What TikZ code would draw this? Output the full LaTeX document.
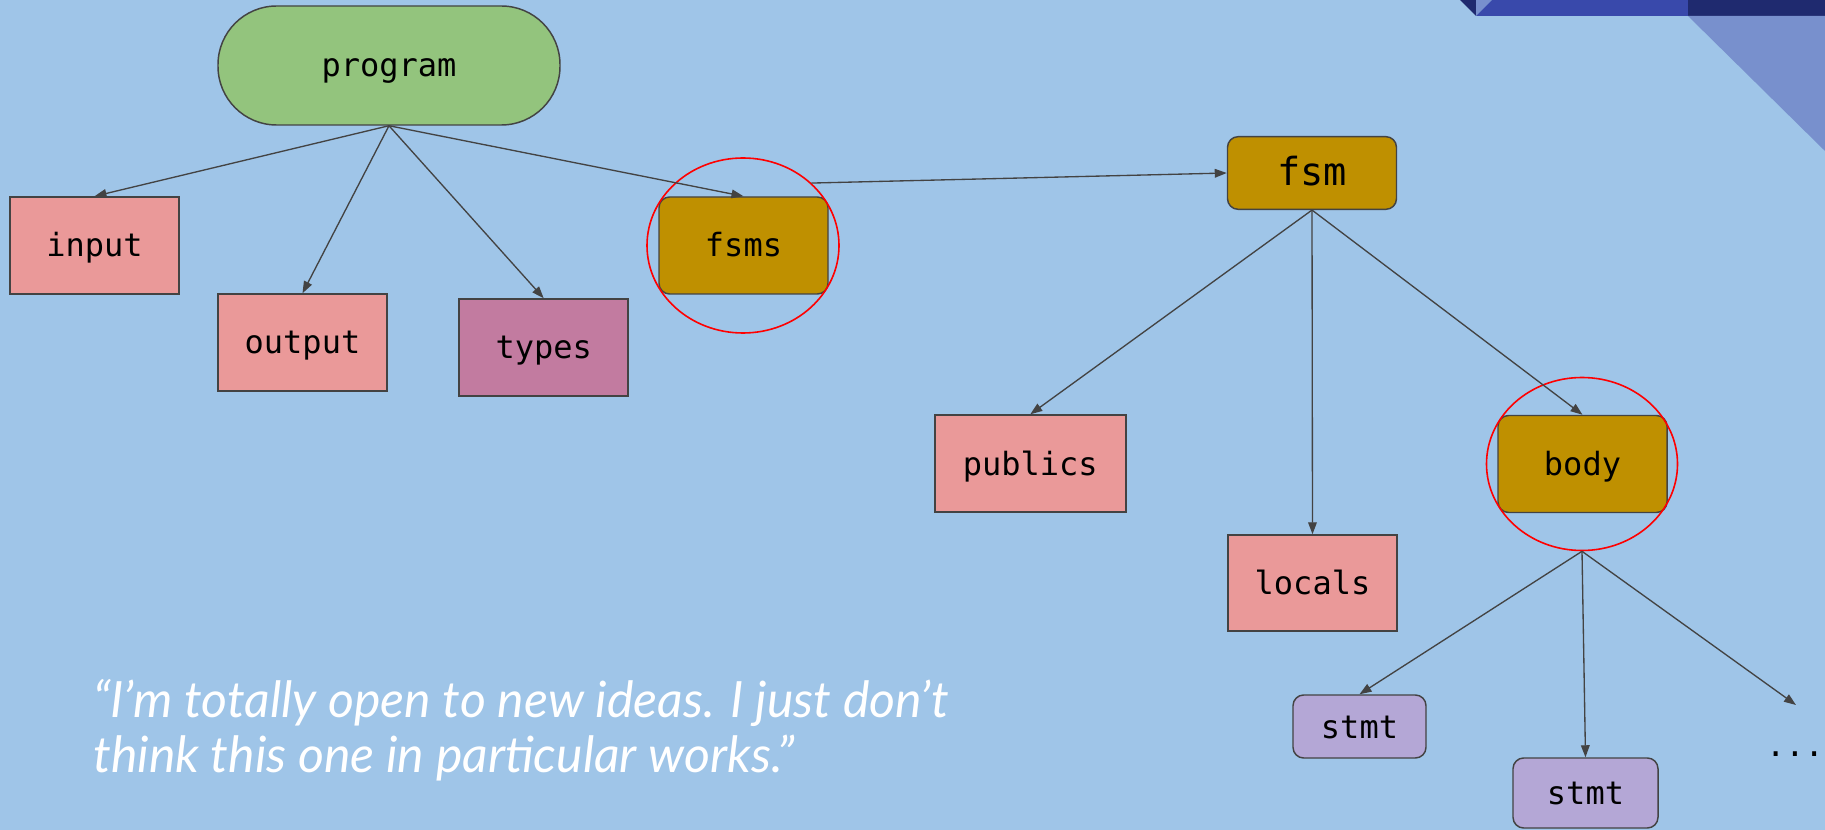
\documentclass[tikz,border=0pt]{standalone}
\usepackage{fontspec}
\setmonofont{DejaVu Sans Mono}
\newfontfamily\quotefont{Lato}
\usetikzlibrary{arrows.meta,shapes.geometric}

\definecolor{slidebg}{HTML}{9FC5E8}
\definecolor{rootgreen}{HTML}{93C47D}
\definecolor{leafpink}{HTML}{EA9999}
\definecolor{typemauve}{HTML}{C27BA0}
\definecolor{fsmgold}{HTML}{BF9000}
\definecolor{stmtlilac}{HTML}{B4A7D6}
\definecolor{edgegray}{HTML}{434343}
\definecolor{ringred}{HTML}{FF0000}
\definecolor{barblue}{HTML}{3949AB}
\definecolor{barnavy}{HTML}{1F2A6F}
\definecolor{barlight}{HTML}{7890CD}

\tikzset{
  box/.style={draw=edgegray, line width=1.1pt, font=\ttfamily\fontsize{24}{28}\selectfont,
    text=black, inner sep=0pt, text height=17.25pt, text depth=0pt,
    minimum width=126.75pt, minimum height=72.75pt},
  leaf/.style={box, fill=leafpink},
  roundbox/.style={box, rounded corners=8pt},
  ring/.style={draw=ringred, line width=1.2pt, ellipse, inner sep=0pt},
  edge/.style={draw=edgegray, line width=1pt, -{Triangle[length=9pt,width=6.5pt]}},
}

\begin{document}
\begin{tikzpicture}[x=0.75pt, y=-0.75pt]
  \useasboundingbox (0,0) rectangle (1825,830);
  \fill[slidebg] (0,0) rectangle (1825,830);

  % corner banner
  \fill[barnavy] (1460,0) -- (1476,16) -- (1476,0) -- cycle;
  \fill[barlight] (1476,0) -- (1492,0) -- (1476,16) -- cycle;
  \fill[barblue] (1492,0) -- (1688,0) -- (1688,16) -- (1476,16) -- cycle;
  \fill[barnavy] (1688,0) rectangle (1825,16);
  \fill[barlight] (1688,16) -- (1825,16) -- (1825,151) -- cycle;

  % tree nodes
  \node[box, fill=rootgreen, rounded corners=44pt, minimum width=256.5pt, minimum height=89.25pt]
    (program) at (389,65.5) {program};
  \node[leaf] (input)  at (94.5,245.5) {input};
  \node[leaf] (output) at (302.5,342.5) {output};
  \node[box, fill=typemauve] (types) at (543.7,347.5) {types};
  \node[roundbox, fill=fsmgold] (fsms) at (743.5,245.5) {fsms};
  \node[ring, minimum width=144pt, minimum height=131.25pt] (fsmsring) at (743,245.5) {};
  \node[roundbox, fill=fsmgold, minimum height=54.5pt, text height=19.5pt,
        font=\ttfamily\fontsize{29}{33}\selectfont]
    (fsm) at (1312,173) {fsm};
  \node[leaf, minimum width=143.25pt] (publics) at (1030.3,463.5) {publics};
  \node[leaf, minimum height=72pt] (locals) at (1312.5,583) {locals};
  \node[roundbox, fill=fsmgold] (body) at (1582.5,464) {body};
  \node[ring, minimum width=143.25pt, minimum height=129.75pt] (bodyring) at (1582,464) {};
  \node[roundbox, fill=stmtlilac, minimum width=99.75pt, minimum height=47.25pt]
    (stmtA) at (1359.5,726.5) {stmt};
  \node[roundbox, fill=stmtlilac, minimum width=108.75pt, minimum height=52.5pt]
    (stmtB) at (1585.5,793) {stmt};
  \node[font=\ttfamily\fontsize{24}{28}\selectfont, inner sep=0pt, anchor=base] (more) at (1795,756) {...};
  \coordinate (moretip) at (1796,705);

  % connectors
  \draw[edge] (program.south) -- (input.north);
  \draw[edge] (program.south) -- (output.north);
  \draw[edge] (program.south) -- (types.north);
  \draw[edge] (program.south) -- (fsms.north);
  \draw[edge] (fsmsring.north east) -- (fsm.west);
  \draw[edge] (fsm.south) -- (publics.north);
  \draw[edge] (fsm.south) -- (locals.north);
  \draw[edge] (fsm.south) -- (body.north);
  \draw[edge] (bodyring.south) -- (stmtA.north);
  \draw[edge] (bodyring.south) -- (stmtB.north);
  \draw[edge] (bodyring.south) -- (moretip);

  % quotation
  \node[anchor=base west, inner sep=0pt, text=white, align=left,
        font=\quotefont\itshape\fontsize{37.5}{41.25}\selectfont] (quote) at (93,772)
    {“I’m totally open to new ideas. I just don’t\\think this one in particular works.”};
\end{tikzpicture}
\end{document}
